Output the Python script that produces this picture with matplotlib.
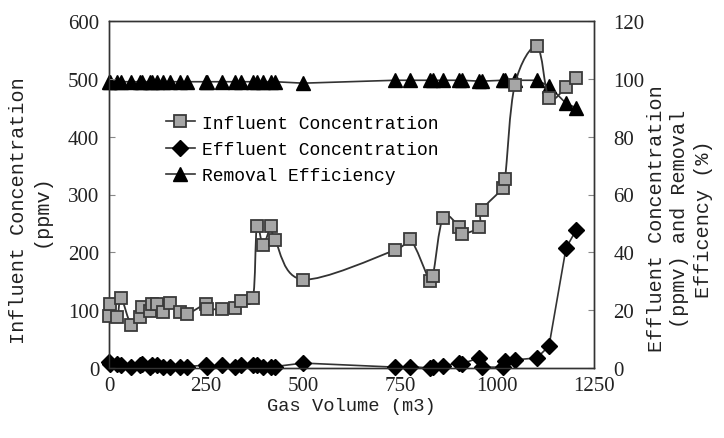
import matplotlib
matplotlib.use("Agg")
import matplotlib.pyplot as plt
from matplotlib.path import Path
from matplotlib.patches import PathPatch
from matplotlib.lines import Line2D

# ---- data ----
gas_volume = [0, 3, 21, 31, 57, 80, 85, 106, 111, 124, 139, 157, 183, 201, 250, 253,
              291, 325, 340, 371, 381, 397, 418, 428, 500, 737, 776, 827, 835, 861,
              902, 910, 954, 961, 1015, 1021, 1046, 1103, 1134, 1178, 1204]
influent = [90, 111, 88, 121, 75, 88, 106, 99, 110, 111, 96, 113, 96, 93, 111, 102,
            102, 103, 115, 121, 245, 213, 245, 221, 153, 204, 223, 150, 159, 260,
            244, 232, 244, 273, 311, 327, 490, 556, 467, 486, 502]
effluent = [2, 1.5, 1.5, 1, 0.5, 1, 1.5, 0.5, 1, 1, 0.5, 0.5, 0.5, 0.5, 1, 0.5,
            1, 0.5, 1, 1, 1, 0.5, 0.5, 0.5, 1.7, 0.3, 0.5, 0, 0.3, 0.8,
            1.7, 1.5, 3.5, 0.3, 0.3, 2.4, 2.8, 3.5, 7.6, 41.5, 47.7]
removal = [99, 99, 99, 99, 99, 99, 99, 99, 99, 99, 99, 99, 99, 99, 99, 99,
           99, 99, 99, 99, 99, 99, 99, 99, 98.5, 99.5, 99.5, 99.5, 99.5, 99.5,
           99.5, 99.5, 99.2, 99.2, 99.5, 99.5, 99.5, 99.5, 97.5, 91.5, 90]

x_ticks = [0, 250, 500, 750, 1000, 1250]
left_ticks = [0, 100, 200, 300, 400, 500, 600]
right_ticks = [0, 20, 40, 60, 80, 100, 120]

# ---- style ----
mono = "Liberation Mono"
serif = "Liberation Serif"
line_col = "#333333"
sq_face = "#a6a6a6"
sq_edge = "#3a3a3a"

fig = plt.figure(figsize=(7.24, 4.39), dpi=100)
ax1 = fig.add_axes([109 / 724, 1 - 369 / 439, 485 / 724, 347 / 439])
ax2 = ax1.twinx()

# smoothed influent line (Catmull-Rom / Bezier like Excel smoothing)
pts = list(zip(gas_volume, influent))
verts = [pts[0]]
codes = [Path.MOVETO]
n = len(pts)
for i in range(n - 1):
    p0 = pts[i - 1] if i > 0 else pts[i]
    p1 = pts[i]
    p2 = pts[i + 1]
    p3 = pts[i + 2] if i + 2 < n else pts[i + 1]
    c1 = (p1[0] + (p2[0] - p0[0]) / 6, p1[1] + (p2[1] - p0[1]) / 6)
    c2 = (p2[0] - (p3[0] - p1[0]) / 6, p2[1] - (p3[1] - p1[1]) / 6)
    verts += [c1, c2, p2]
    codes += [Path.CURVE4] * 3
ax1.add_patch(PathPatch(Path(verts, codes), fill=False, edgecolor=line_col, lw=1.3, zorder=3))
ax1.plot(gas_volume, influent, linestyle="none", marker="s", ms=9,
         mfc=sq_face, mec=sq_edge, mew=1.3, zorder=4, clip_on=False)

ax2.plot(gas_volume, effluent, color=line_col, lw=1.2, marker="D", ms=8,
         mfc="black", mec="black", zorder=3, clip_on=False)
ax2.plot(gas_volume, removal, color=line_col, lw=1.2, marker="^", ms=9.5,
         mfc="black", mec="black", zorder=3, clip_on=False)

ax1.set_zorder(ax2.get_zorder() + 1)
ax1.patch.set_visible(False)

ax1.set_xlim(0, 1250)
ax1.set_ylim(0, 600)
ax2.set_ylim(0, 120)
ax1.set_xticks(x_ticks)
ax1.set_yticks(left_ticks)
ax2.set_yticks(right_ticks)

for ax in (ax1, ax2):
    for s in ax.spines.values():
        s.set_color("#333333")
        s.set_linewidth(1.0)

ax1.tick_params(axis="x", length=0, pad=6, labelsize=15)
ax1.tick_params(axis="y", direction="in", length=4, pad=7, labelsize=15, color="#888888")
ax2.tick_params(axis="y", direction="in", length=4, pad=14, labelsize=15, color="#888888")
for lab in ax1.get_xticklabels() + ax1.get_yticklabels() + ax2.get_yticklabels():
    lab.set_fontfamily(serif)
    lab.set_color("#222222")

ax1.set_xlabel("Gas Volume (m3)", fontfamily=mono, fontsize=13.5, color="#222222", labelpad=1)
ax1.set_ylabel("Influent Concentration\n(ppmv)", fontfamily=mono, fontsize=14.5,
               color="#222222", linespacing=1.2)
ax1.yaxis.set_label_coords(-0.121, 0.455)
ax2.set_ylabel("Effluent Concentration\n(ppmv) and Removal\nEfficency (%)",
               fontfamily=mono, fontsize=14.5, color="#222222", linespacing=1.3, rotation=90)
ax2.yaxis.set_label_coords(1.109, 0.432)

handles = [
    Line2D([], [], color=line_col, lw=1.2, marker="s", ms=9, mfc=sq_face, mec=sq_edge, mew=1.3),
    Line2D([], [], color=line_col, lw=1.2, marker="D", ms=8, mfc="black", mec="black"),
    Line2D([], [], color=line_col, lw=1.2, marker="^", ms=9.5, mfc="black", mec="black"),
]
labels = ["Influent Concentration", "Effluent Concentration", "Removal Efficiency"]
ax1.legend(handles, labels, loc="upper left", bbox_to_anchor=(0.117, 0.73),
           frameon=False, prop={"family": mono, "size": 13}, handlelength=1.6,
           handletextpad=0.4, labelspacing=0.52, borderpad=0, borderaxespad=0)

fig.savefig("out.png", dpi=100)
